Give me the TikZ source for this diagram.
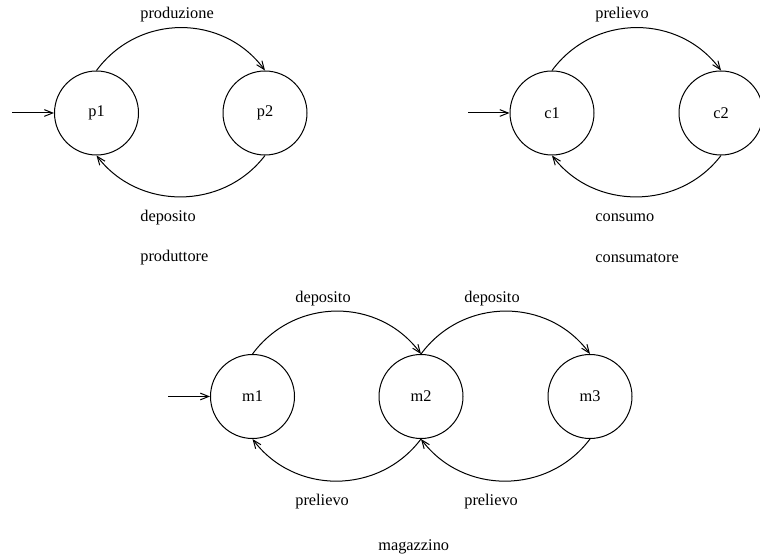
\documentclass[tikz,border=0pt]{standalone}
\usepackage{fontspec}
\setmainfont{Liberation Serif}
\usetikzlibrary{arrows.meta}
\begin{document}
\begin{tikzpicture}[x=0.6pt,y=-0.6pt,
  state/.style={circle,draw,line width=0.6pt,minimum size=50.4pt,inner sep=0pt,font=\fontsize{9.8}{11}\selectfont},
  lbl/.style={anchor=west,inner sep=0pt,font=\fontsize{9.8}{11}\selectfont},
  arr/.style={line width=0.6pt,-{Straight Barb[length=5pt,width=4pt,line width=0.6pt]}}]
  \useasboundingbox (0,0) rectangle (760,557);
  \clip (0,0) rectangle (760,557);

  % producer
  \node[state] (p1) at (96.5,113) {p1};
  \node[state] (p2) at (265,113) {p2};
  \coordinate (pin) at (12,113);
  \draw[arr] (pin) -- (p1.west);
  \draw[arr] (p1.north) .. controls +(42,-57) and +(-42,-57) .. (p2.north);
  \draw[arr] (p2.south) .. controls +(-42,55) and +(42,55) .. (p1.south);
  \node[lbl] (lprod) at (140,15) {produzione};
  \node[lbl] (ldep) at (140,218) {deposito};
  \node[lbl] (ltitp) at (140,258) {produttore};

  % consumer
  \node[state] (c1) at (552,113) {c1};
  \node[state] (c2) at (721,113) {c2};
  \coordinate (cin) at (468,113);
  \draw[arr] (cin) -- (c1.west);
  \draw[arr] (c1.north) .. controls +(42,-57) and +(-42,-57) .. (c2.north);
  \draw[arr] (c2.south) .. controls +(-42,55) and +(42,55) .. (c1.south);
  \node[lbl] (lprel) at (595,15) {prelievo};
  \node[lbl] (lcons) at (595,218) {consumo};
  \node[lbl] (ltitc) at (595,258) {consumatore};

  % store
  \node[state] (m1) at (252.5,396.5) {m1};
  \node[state] (m2) at (421,396.5) {m2};
  \node[state] (m3) at (590,396.5) {m3};
  \coordinate (min) at (168,396.5);
  \draw[arr] (min) -- (m1.west);
  \draw[arr] (m1.north) .. controls +(42,-57) and +(-42,-57) .. (m2.north);
  \draw[arr] (m2.north) .. controls +(42,-57) and +(-42,-57) .. (m3.north);
  \draw[arr] (m3.south) .. controls +(-42,56) and +(42,56) .. (m2.south);
  \draw[arr] (m2.south) .. controls +(-42,56) and +(42,56) .. (m1.south);
  \node[lbl] (ldep1) at (295,299) {deposito};
  \node[lbl] (ldep2) at (464,299) {deposito};
  \node[lbl] (lprel1) at (295,502) {prelievo};
  \node[lbl] (lprel2) at (464,502) {prelievo};
  \node[lbl] (ltitm) at (378,547) {magazzino};
\end{tikzpicture}
\end{document}
